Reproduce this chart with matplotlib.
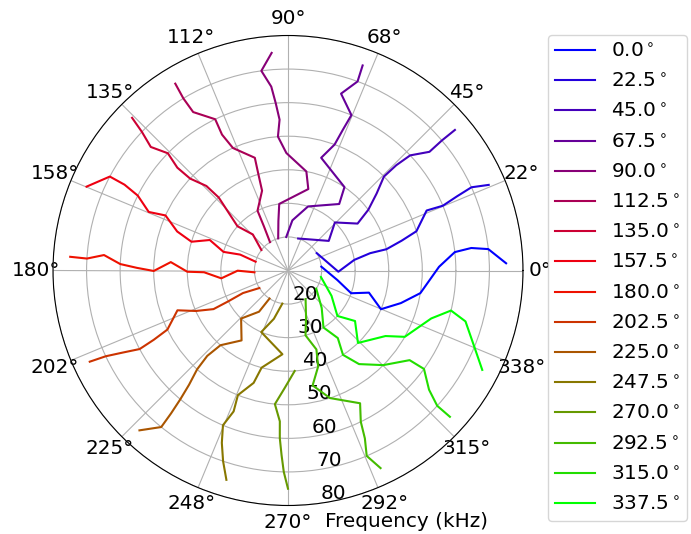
import numpy as np
import matplotlib
matplotlib.use("Agg")
import matplotlib.pyplot as plt

plt.rcParams['font.size'] = 14.4

# Frequencies sampled for every source direction (kHz)
freq_khz = [20, 25, 30, 35, 40, 45, 50, 55, 60, 65, 70, 75]

# Source directions (degrees)
source_deg = [0.0, 22.5, 45.0, 67.5, 90.0, 112.5, 135.0, 157.5,
              180.0, 202.5, 225.0, 247.5, 270.0, 292.5, 315.0, 337.5]

# Estimated direction (degrees) at each frequency, one row per source direction
estimated_deg = [
    [6.5, -11.0, -19.8, -15.3, -22.6, -16.1, -9.7, 1.4, 6.3, 7.0, 6.1, 1.9],
    [31.2, -1.4, 9.1, 11.9, 12.2, 14.7, 17.0, 23.4, 22.7, 23.7, 24.4, 23.1],
    [72.4, 36.0, 45.7, 34.0, 37.1, 41.0, 44.4, 44.2, 43.3, 40.0, 40.2, 40.1],
    [93.0, 85.0, 72.6, 52.4, 55.9, 73.6, 69.7, 68.7, 67.8, 73.3, 69.8, 70.0],
    [107.0, 101.0, 97.5, 76.0, 79.5, 90.8, 94.3, 93.2, 94.2, 95.2, 97.6, 94.3],
    [122.4, 118.6, 117.0, 108.0, 107.1, 106.4, 114.2, 115.9, 115.7, 120.9, 121.3, 121.1],
    [142.4, 134.3, 138.8, 135.6, 133.5, 134.0, 136.8, 137.1, 135.7, 138.0, 136.5, 135.6],
    [164.8, 161.6, 163.9, 158.7, 163.4, 160.6, 155.8, 157.2, 153.5, 152.3, 152.2, 157.4],
    [183.1, 180.2, 186.7, 181.2, 180.7, 175.9, 180.2, 179.0, 177.8, 175.2, 176.6, 176.4],
    [211.5, 206.6, 207.3, 207.4, 203.7, 199.8, 206.1, 207.3, 207.9, 206.4, 205.2, 204.7],
    [236.6, 234.9, 225.7, 236.4, 227.9, 226.6, 227.4, 229.1, 230.1, 230.7, 231.0, 227.1],
    [260.3, 253.7, 246.5, 266.2, 254.8, 253.0, 248.1, 248.9, 247.2, 249.0, 251.2, 253.6],
    [np.nan, np.nan, np.nan, np.nan, 273.8, 268.4, 264.4, 266.9, 267.2, 268.0, 268.8, 270.0],
    [301.6, 291.0, 285.1, 289.8, 287.4, 282.1, 288.2, 298.5, 295.7, 294.6, 293.0, 295.1],
    [327.3, 312.0, 301.9, 306.4, 303.1, 307.2, 315.2, 323.6, 324.1, 319.8, 317.8, 317.9],
    [348.8, 329.8, 317.4, 323.0, 314.0, 326.1, 330.4, 341.5, 346.2, 344.0, 337.7, 332.9],
]

fig = plt.figure(figsize=(6.91, 5.34), dpi=100)
ax = fig.add_axes([53 / 691, 28.5 / 534, 470 / 691, 470 / 534], projection='polar')

colors = plt.cm.brg(np.linspace(0, 1, len(source_deg)))
for src, est, col in zip(source_deg, estimated_deg, colors):
    ax.plot(np.deg2rad(est), freq_khz, color=col, lw=1.5,
            label=f"{src:.1f}$^\\circ$")

ax.set_ylim(10, 80)
ax.set_yticks([20, 30, 40, 50, 60, 70, 80])
ax.set_thetagrids(np.arange(0, 360, 22.5))
ax.tick_params(axis='x', pad=2)
ax.set_rlabel_position(278)

fig.text(325 / 691, 1 - 527 / 534, "Frequency (kHz)", ha='left', va='baseline')

ax.legend(loc='upper left', bbox_to_anchor=(548 / 691, 1 - 35 / 534),
          bbox_transform=fig.transFigure, borderaxespad=0.0,
          labelspacing=0.56, borderpad=0.35)

fig.savefig("out.png", dpi=100)
